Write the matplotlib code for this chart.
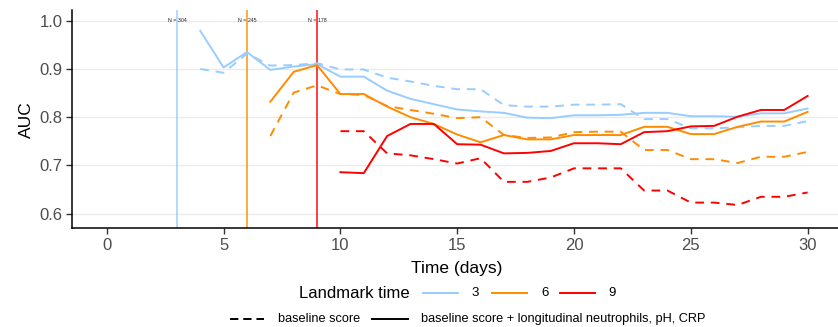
import matplotlib
matplotlib.use("Agg")
import matplotlib.pyplot as plt
from matplotlib.lines import Line2D

plt.rcParams['font.family'] = ['Liberation Sans', 'DejaVu Sans']

# ---- data ----
landmarks = [3, 6, 9]
n_at_risk = ["N = 304", "N = 245", "N = 178"]
colors = {3: "#99CCFF", 6: "#FF8C00", 9: "#FF0000"}

days_3 = list(range(4, 31))
full_3 = [0.979, 0.903, 0.935, 0.898, 0.905, 0.910, 0.884, 0.884, 0.855, 0.838,
          0.827, 0.816, 0.812, 0.809, 0.799, 0.798, 0.804, 0.804, 0.805, 0.809,
          0.809, 0.802, 0.802, 0.801, 0.808, 0.808, 0.818]
base_3 = [0.900, 0.892, 0.932, 0.907, 0.908, 0.912, 0.899, 0.899, 0.882, 0.874,
          0.865, 0.858, 0.858, 0.825, 0.822, 0.822, 0.826, 0.826, 0.827, 0.796,
          0.796, 0.777, 0.777, 0.779, 0.782, 0.782, 0.792]

days_6 = list(range(7, 31))
full_6 = [0.832, 0.894, 0.908, 0.848, 0.848, 0.822, 0.800, 0.786, 0.764, 0.748,
          0.763, 0.754, 0.754, 0.763, 0.763, 0.763, 0.780, 0.780, 0.765, 0.765,
          0.780, 0.791, 0.791, 0.811]
base_6 = [0.761, 0.851, 0.866, 0.848, 0.846, 0.823, 0.815, 0.807, 0.798, 0.800,
          0.763, 0.757, 0.758, 0.769, 0.770, 0.770, 0.732, 0.732, 0.713, 0.713,
          0.705, 0.718, 0.718, 0.728]

days_9 = list(range(10, 31))
full_9 = [0.686, 0.684, 0.761, 0.786, 0.786, 0.744, 0.743, 0.725, 0.726, 0.730,
          0.746, 0.746, 0.744, 0.769, 0.771, 0.781, 0.782, 0.801, 0.815, 0.815,
          0.844]
base_9 = [0.771, 0.771, 0.725, 0.721, 0.713, 0.704, 0.715, 0.666, 0.666, 0.675,
          0.694, 0.694, 0.694, 0.648, 0.648, 0.623, 0.623, 0.618, 0.635, 0.635,
          0.644]

series = {3: (days_3, base_3, full_3),
          6: (days_6, base_6, full_6),
          9: (days_9, base_9, full_9)}

x_ticks = [0, 5, 10, 15, 20, 25, 30]
y_ticks = [0.6, 0.7, 0.8, 0.9, 1.0]

# ---- figure ----
W, H = 838, 327
fig = plt.figure(figsize=(W / 100, H / 100), dpi=100)
ax_l, ax_r, ax_b, ax_t = 72, 838, 228.3, 10
ax = fig.add_axes([ax_l / W, 1 - ax_b / H, (ax_r - ax_l) / W, (ax_b - ax_t) / H])
ax.set_xlim(-1.49, 31.3)
ax.set_ylim(0.5697, 1.0222)

for y in y_ticks:
    ax.axhline(y, color="#EBEBEB", lw=1.0, zorder=0)

for lm, lab in zip(landmarks, n_at_risk):
    ax.axvline(lm, color=colors[lm], lw=1.3, alpha=0.8, zorder=1)
    ax.text(lm, 1.0, lab, fontsize=3.8, ha="center", va="center", color="#222222", zorder=3)

for lm in landmarks:
    d, b, f = series[lm]
    ax.plot(d, b, color=colors[lm], lw=1.4, dashes=(4.5, 3.5), zorder=2)
    ax.plot(d, f, color=colors[lm], lw=1.4, zorder=2)

for s in ["top", "right"]:
    ax.spines[s].set_visible(False)
for s in ["left", "bottom"]:
    ax.spines[s].set_color("black")
    ax.spines[s].set_linewidth(1.1)

ax.set_xticks(x_ticks)
ax.set_yticks(y_ticks)
ax.set_yticklabels([f"{v:.1f}" for v in y_ticks])
ax.tick_params(axis="both", direction="out", length=4, width=1.0, color="#333333",
               labelsize=12, labelcolor="#4D4D4D", pad=3)

ax.set_ylabel("AUC", fontsize=12.5, labelpad=4)
fig.text(457 / W, 1 - 268 / H, "Time (days)", fontsize=12.5, ha="center", va="center")

# ---- legend (row 1: colour) ----
y1 = 1 - 293 / H
fig.text(410 / W, y1, "Landmark time", fontsize=12, ha="right", va="center")
keys = [(423, 458, 475, 3), (492, 527, 545, 6), (560, 595, 612, 9)]
for x0, x1, xt, lm in keys:
    fig.add_artist(Line2D([x0 / W, x1 / W], [y1, y1], transform=fig.transFigure,
                          color=colors[lm], lw=1.4))
    fig.text(xt / W, y1, str(lm), fontsize=9.5, ha="center", va="center")

# ---- legend (row 2: linetype) ----
y2 = 1 - 319 / H
fig.add_artist(Line2D([230 / W, 264 / W], [y2, y2], transform=fig.transFigure,
                      color="black", lw=1.4, dashes=(4.3, 2.5)))
fig.text(278 / W, y2, "baseline score", fontsize=9.2, ha="left", va="center")
fig.add_artist(Line2D([372 / W, 408 / W], [y2, y2], transform=fig.transFigure,
                      color="black", lw=1.4))
fig.text(421 / W, y2, "baseline score + longitudinal neutrophils, pH, CRP",
         fontsize=9.2, ha="left", va="center")

fig.savefig("out.png", dpi=100)
